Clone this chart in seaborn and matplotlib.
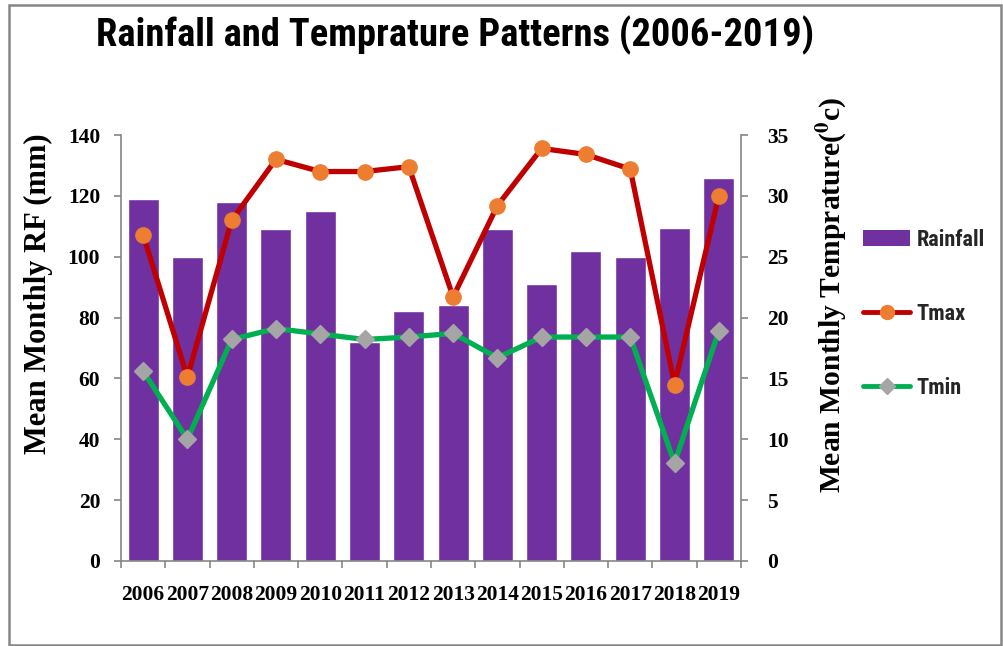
import matplotlib
matplotlib.use('Agg')
import matplotlib.pyplot as plt
import seaborn as sns
import numpy as np
import pandas as pd
from matplotlib.lines import Line2D
from matplotlib.patches import Patch, Rectangle

years = ['2006', '2007', '2008', '2009', '2010', '2011', '2012',
         '2013', '2014', '2015', '2016', '2017', '2018', '2019']
rainfall = [119, 100, 118, 109, 115, 72, 82, 84, 109, 91, 102, 100, 109.5, 126]
tmax = [26.8, 15.1, 28.0, 33.0, 32.0, 32.0, 32.4, 21.7, 29.2, 33.9, 33.4, 32.2, 14.5, 30.0]
tmin = [15.6, 10.0, 18.2, 19.1, 18.65, 18.2, 18.4, 18.7, 16.7, 18.4, 18.4, 18.4, 8.05, 18.9]

sns.set_theme(style='white')
plt.rcParams['mathtext.fontset'] = 'stix'

serif = ['Liberation Serif', 'DejaVu Serif']
narrow = ['Roboto Condensed', 'Liberation Sans Narrow', 'Roboto', 'DejaVu Sans']
axis_grey = '#868686'

df = pd.DataFrame({'year': years, 'rainfall': rainfall})

fig = plt.figure(figsize=(10.04, 6.46), dpi=100)
ax = fig.add_axes([0.1205, 0.1316, 0.6175, 0.6594])

sns.barplot(data=df, x='year', y='rainfall', color='#7030A0', saturation=1,
            width=0.7, ax=ax)
ax.set_xlim(-0.5, len(years) - 0.5)
ax.set_ylim(0, 140)
ax.set_yticks(range(0, 141, 20))

ax2 = ax.twinx()
x = np.arange(len(years))
ax2.plot(x, tmax, color='#C00000', lw=3.8, marker='o', markersize=11,
         markerfacecolor='#ED7D31', markeredgecolor='#ED7D31')
ax2.plot(x, tmin, color='#00B050', lw=3.8, marker='D', markersize=9,
         markerfacecolor='#A5A5A5', markeredgecolor='#A5A5A5')
ax2.set_ylim(0, 35)
ax2.set_yticks(range(0, 36, 5))

for a in (ax, ax2):
    a.spines['top'].set_visible(False)
    for s in ('left', 'right', 'bottom'):
        a.spines[s].set_color(axis_grey)
        a.spines[s].set_linewidth(1.2)
ax.spines['right'].set_visible(False)
ax2.spines['left'].set_visible(False)
ax2.spines['bottom'].set_visible(False)

# x tick marks between categories, labels at centres
ax.set_xticks(x)
ax.set_xticks(np.arange(-0.5, len(years), 1), minor=True)
ax.tick_params(axis='x', which='major', length=0, pad=17)
ax.tick_params(axis='x', which='minor', length=5, color=axis_grey, width=1.2,
               direction='out', bottom=True)
ax.tick_params(axis='y', length=5, color=axis_grey, width=1.2, direction='out',
               left=True, pad=10)
ax2.tick_params(axis='y', length=5, color=axis_grey, width=1.2, direction='out',
                right=True, pad=14)

for lab in ax.get_xticklabels() + ax.get_yticklabels() + ax2.get_yticklabels():
    lab.set_fontfamily(serif)
    lab.set_fontweight('bold')
    lab.set_fontsize(15.5)
    lab.set_color('black')

ax.set_xlabel('')
ax.set_ylabel('Mean Monthly RF (mm)', fontfamily=serif, fontweight='bold',
              fontsize=22, color='black')
ax.yaxis.set_label_coords(-0.11, 0.627)
ax2.set_ylabel(r'Mean Monthly Temprature($^{\mathbf{0}}$c)', fontfamily=serif,
               fontweight='bold', fontsize=21.3, color='black')
ax2.yaxis.set_label_coords(1.12, 0.625)

fig.text(0.453, 0.945, 'Rainfall and Temprature Patterns (2006-2019)',
         ha='center', va='center', fontsize=27.8, fontweight='bold',
         family=narrow, color='black')

handles = [Patch(facecolor='#7030A0', edgecolor='none'),
           Line2D([], [], color='#C00000', lw=3.5, marker='o', markersize=10,
                  markerfacecolor='#ED7D31', markeredgecolor='#ED7D31'),
           Line2D([], [], color='#00B050', lw=3.5, marker='D', markersize=8,
                  markerfacecolor='#A5A5A5', markeredgecolor='#A5A5A5')]
leg = fig.legend(handles, ['Rainfall', 'Tmax', 'Tmin'], loc='upper left',
                 bbox_to_anchor=(0.840, 0.677), frameon=False, labelspacing=2.35,
                 handlelength=2.1, handletextpad=0.3,
                 prop={'family': narrow, 'weight': 'bold', 'size': 16})

fig.patches.append(Rectangle((0.009, 0.002), 0.988, 0.99, transform=fig.transFigure,
                             fill=False, edgecolor=axis_grey, linewidth=1.8))

fig.savefig('out.png', dpi=100)
